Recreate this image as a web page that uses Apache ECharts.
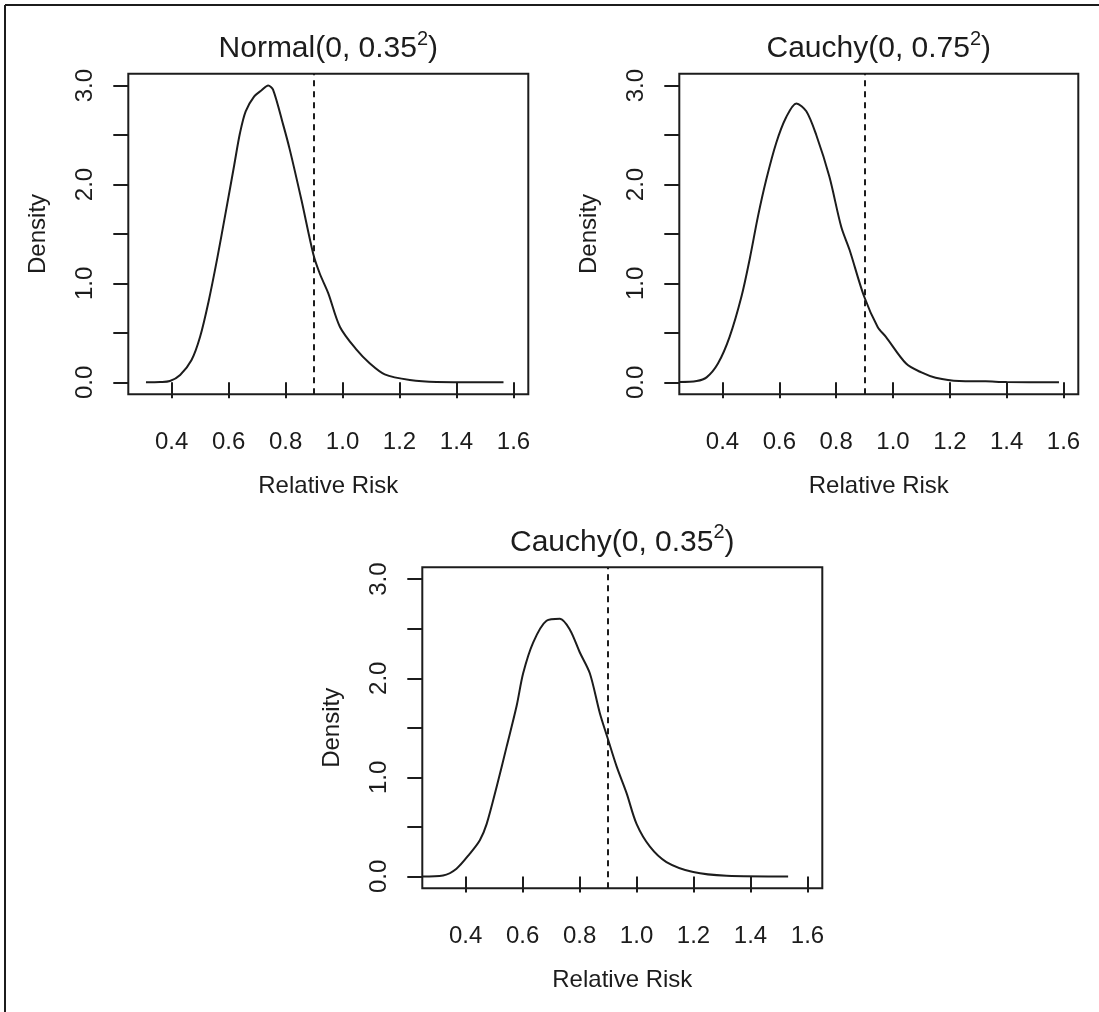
<!DOCTYPE html>
<html><head><meta charset="utf-8">
<script src="https://cdn.jsdelivr.net/npm/echarts@6/dist/echarts.min.js"></script>
<style>html,body{margin:0;padding:0;background:#fff}#c{width:1099px;height:1012px}</style>
</head><body><div id="c"></div>
<script>
// ---- data ----
const titles = ['Normal(0, 0.35{sup|2})', 'Cauchy(0, 0.75{sup|2})', 'Cauchy(0, 0.35{sup|2})'];
const normalX = [0.31,0.36,0.394,0.43,0.47,0.50,0.53,0.56,0.59,0.62,0.64,0.66,0.69,0.715,0.739,0.756,0.792,0.815,0.856,0.897,0.92,0.95,0.991,1.049,1.096,1.148,1.236,1.33,1.45,1.565];
const normalY = [0,0.003,0.013,0.074,0.225,0.46,0.82,1.25,1.72,2.20,2.52,2.74,2.89,2.95,3.00,2.96,2.60,2.35,1.84,1.30,1.10,0.90,0.56,0.33,0.19,0.08,0.023,0.003,0.001,0];
const cauchy75X = [0.2475,0.309,0.344,0.384,0.425,0.467,0.496,0.525,0.554,0.589,0.624,0.66,0.695,0.730,0.776,0.818,0.847,0.898,0.946,0.975,1.046,1.10,1.150,1.233,1.326,1.40,1.584];
const cauchy75Y = [0.003,0.013,0.05,0.19,0.46,0.87,1.25,1.68,2.05,2.42,2.68,2.82,2.74,2.50,2.08,1.57,1.34,0.87,0.56,0.46,0.19,0.10,0.047,0.013,0.01,0.003,0];
const cauchy35X = [0.2475,0.321,0.368,0.415,0.450,0.474,0.509,0.544,0.579,0.602,0.637,0.684,0.731,0.766,0.801,0.836,0.871,0.897,0.930,0.965,1.000,1.047,1.105,1.199,1.316,1.532];
const cauchy35Y = [0,0.01,0.078,0.23,0.365,0.53,0.905,1.31,1.72,2.05,2.36,2.58,2.60,2.49,2.26,2.05,1.65,1.41,1.11,0.84,0.53,0.30,0.145,0.044,0.007,0];
const xTicks = [0.4,0.6,0.8,1.0,1.2,1.4,1.6];
const yTicks = [0,0.5,1,1.5,2,2.5,3];
const yLabels = [0,1,2,3];
const cutoff = 0.9;
const xName = 'Relative Risk';
const yName = 'Density';

// ---- layout ----
const FONT = '"Liberation Sans", Arial, Helvetica, sans-serif';
const INK = '#1c1c1c';
const grids = [
  {left: 128.3, top: 73.7, width: 400, height: 320.5},
  {left: 679.3, top: 73.7, width: 399, height: 320.5},
  {left: 422.3, top: 567.3, width: 400, height: 321}
];
const seriesX = [normalX, cauchy75X, cauchy35X];
const seriesY = [normalY, cauchy75Y, cauchy35Y];

const option = {
  animation: false,
  backgroundColor: '#fff',
  title: grids.map((g, i) => ({
    text: titles[i],
    left: g.left + g.width / 2,
    top: g.top - 42,
    textAlign: 'center',
    padding: 0,
    textStyle: {
      fontFamily: FONT, fontSize: 30, fontWeight: 'normal', color: INK, lineHeight: 34,
      rich: { sup: { fontFamily: FONT, fontSize: 20, color: INK, lineHeight: 20, padding: [0, 0, 19, 0] } }
    }
  })),
  grid: grids.map(g => ({
    left: g.left, top: g.top, width: g.width, height: g.height,
    show: true, borderColor: INK, borderWidth: 2, backgroundColor: 'transparent', containLabel: false
  })),
  xAxis: grids.map((g, i) => ({
    type: 'value', gridIndex: i, min: 0.248, max: 1.652,
    name: xName, nameLocation: 'middle', nameGap: 80,
    nameTextStyle: {fontFamily: FONT, fontSize: 24, color: INK},
    axisLine: {show: false},
    splitLine: {show: false},
    axisTick: {show: true, inside: false, length: 16, lineStyle: {color: INK, width: 2}, customValues: xTicks},
    axisLabel: {show: true, margin: 36, fontFamily: FONT, fontSize: 24, color: INK, customValues: xTicks,
      formatter: v => Number(v).toFixed(1)}
  })),
  yAxis: grids.map((g, i) => ({
    type: 'value', gridIndex: i, min: -0.12, max: 3.12,
    name: yName, nameLocation: 'middle', nameGap: 78,
    nameTextStyle: {fontFamily: FONT, fontSize: 24, color: INK},
    axisLine: {show: false},
    splitLine: {show: false},
    axisTick: {show: true, inside: false, length: 15, lineStyle: {color: INK, width: 2}, customValues: yTicks},
    axisLabel: {show: true, rotate: 90, margin: 31, fontFamily: FONT, fontSize: 24, color: INK, customValues: yLabels,
      formatter: v => Number(v).toFixed(1)}
  })),
  graphic: [
    {type: 'line', shape: {x1: 5, y1: 5, x2: 1099, y2: 5}, style: {stroke: INK, lineWidth: 2}},
    {type: 'line', shape: {x1: 5, y1: 5, x2: 5, y2: 1012}, style: {stroke: INK, lineWidth: 2}}
  ],
  series: seriesX.map((xs, i) => ({
    type: 'line', xAxisIndex: i, yAxisIndex: i,
    data: xs.map((x, k) => [x, seriesY[i][k]]),
    showSymbol: false, smooth: 0.3,
    lineStyle: {color: INK, width: 2},
    markLine: {
      silent: true, symbol: ['none', 'none'], label: {show: false},
      lineStyle: {type: [6, 5], color: INK, width: 2},
      data: [{xAxis: cutoff}]
    }
  }))
};
const chart = echarts.init(document.getElementById('c'), null, {renderer: 'canvas'});
chart.setOption(option);
</script>
</body></html>
